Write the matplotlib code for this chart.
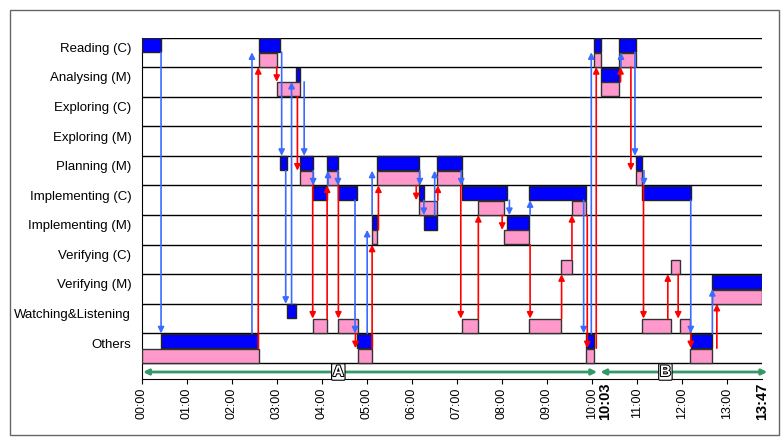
import matplotlib
matplotlib.use("Agg")
import matplotlib.pyplot as plt
import matplotlib.patheffects as pe
from matplotlib.patches import Rectangle

plt.rcParams['font.family'] = ['Liberation Sans', 'DejaVu Sans']

# --- Données ---
activities = ["Reading (C)", "Analysing (M)", "Exploring (C)", "Exploring (M)",
              "Planning (M)", "Implementing (C)", "Implementing (M)", "Verifying (C)",
              "Verifying (M)", "Watching&Listening", "Others"]

# (row, start, end) in minutes
blue_bars = [(0, 0.0, 0.43), (10, 0.43, 2.58), (0, 2.61, 3.07), (4, 3.07, 3.22),
             (9, 3.22, 3.42), (1, 3.42, 3.51), (4, 3.51, 3.81), (5, 3.81, 4.12),
             (4, 4.12, 4.36), (5, 4.36, 4.78), (10, 4.78, 5.11), (6, 5.11, 5.22),
             (4, 5.22, 6.17), (5, 6.17, 6.27), (6, 6.27, 6.57), (4, 6.57, 7.11),
             (5, 7.11, 8.11), (6, 8.11, 8.61), (5, 8.61, 9.88), (10, 9.88, 10.05),
             (0, 10.05, 10.21), (1, 10.21, 10.61), (0, 10.61, 10.98), (4, 10.98, 11.12),
             (5, 11.12, 12.2), (10, 12.2, 12.68), (8, 12.68, 13.783)]

pink_bars = [(10, 0.0, 2.61), (0, 2.61, 3.0), (1, 3.0, 3.51), (4, 3.51, 3.8),
             (9, 3.8, 4.12), (4, 4.12, 4.36), (9, 4.36, 4.8), (10, 4.8, 5.11),
             (6, 5.11, 5.22), (4, 5.22, 6.17), (5, 6.17, 6.57), (4, 6.57, 7.11),
             (9, 7.11, 7.47), (5, 7.47, 8.04), (6, 8.04, 8.61), (9, 8.61, 9.31),
             (7, 9.31, 9.56), (5, 9.56, 9.88), (10, 9.88, 10.05), (0, 10.05, 10.21),
             (1, 10.21, 10.61), (0, 10.61, 10.98), (4, 10.98, 11.12), (9, 11.12, 11.76),
             (7, 11.76, 11.95), (9, 11.95, 12.18), (10, 12.18, 12.68), (8, 12.68, 13.783)]

# (time, from row, to row)
blue_arrows = [(0.43, 0, 10), (2.45, 10, 0), (3.11, 0, 4), (3.2, 4, 9), (3.33, 9, 1),
               (3.61, 1, 4), (3.81, 4, 5), (4.14, 5, 4), (4.36, 4, 5), (4.74, 5, 10),
               (5.01, 10, 6), (5.12, 6, 4), (6.18, 4, 5), (6.27, 5, 6), (6.51, 6, 4),
               (7.1, 4, 5), (8.17, 5, 6), (8.63, 6, 5), (9.82, 5, 10), (9.99, 10, 0),
               (10.65, 1, 0), (10.96, 0, 4), (11.16, 4, 5), (12.2, 5, 10), (12.68, 10, 8)]

red_arrows = [(2.59, 10, 0), (3.0, 0, 1), (3.46, 1, 4), (3.8, 4, 9), (4.12, 9, 4),
              (4.37, 4, 9), (4.75, 9, 10), (5.12, 10, 6), (5.26, 6, 4), (6.1, 4, 5),
              (6.58, 5, 4), (7.09, 4, 9), (7.48, 9, 5), (8.01, 5, 6), (8.63, 6, 9),
              (9.33, 9, 7), (9.56, 7, 5), (9.9, 5, 10), (10.1, 10, 0), (10.64, 1, 0),
              (10.87, 0, 4), (11.15, 4, 9), (11.69, 9, 7), (11.92, 7, 9), (12.2, 9, 10),
              (12.78, 10, 8)]

hours = list(range(14))
hour_labels = ["%02d:%02d" % (h, 0) for h in hours]
marks = [("10:03", 10.05), ("13:47", 13.783)]
phases = [("A", 0.03, 10.12), ("B", 10.19, 13.9)]

# --- Figure ---
W, H = 783, 437
fig = plt.figure(figsize=(W / 100, H / 100), dpi=100)
ax = fig.add_axes([141.7 / W, 1 - 378.5 / H, (762 - 141.7) / W, (378.5 - 37.5) / H])
n = len(activities)
row_h = (363 - 37.5) / n
ax.set_xlim(0, 13.783)
ax.set_ylim(n + (378.5 - 363) / row_h, 0)

for r, a, b in blue_bars:
    ax.barh(r + 0.02, b - a, left=a, height=0.47, align='edge',
            color='#0000FF', edgecolor='#222222', linewidth=1, zorder=3)
for r, a, b in pink_bars:
    ax.barh(r + 0.52, b - a, left=a, height=0.47, align='edge',
            color='#FF99CC', edgecolor='#333333', linewidth=1, zorder=3)

for i in range(n + 1):
    ax.axhline(i, color='black', lw=1, zorder=1)


def arrow(t, y0, y1, color):
    ax.annotate('', xy=(t, y1), xytext=(t, y0),
                arrowprops=dict(arrowstyle='-|>', color=color, lw=1.2,
                                shrinkA=0, shrinkB=0, mutation_scale=9), zorder=5)


for t, r0, r1 in blue_arrows:
    if r1 > r0:
        arrow(t, r0 + 0.5, r1, '#3A6BFF')
    else:
        arrow(t, r0, r1 + 0.5, '#3A6BFF')
for t, r0, r1 in red_arrows:
    if r1 > r0:
        arrow(t, r0 + 1, r1 + 0.5, '#FF0000')
    else:
        arrow(t, r0 + 0.5, r1 + 1, '#FF0000')

# --- Phases ---
yp = n + (372 - 363) / row_h
for name, a, b in phases:
    ax.annotate('', xy=(b, yp), xytext=(a, yp), annotation_clip=False,
                arrowprops=dict(arrowstyle='<|-|>', color='#339966', lw=2,
                                shrinkA=0, shrinkB=0, mutation_scale=8))
    ax.text(a + (b - a) * 0.43 if name == "A" else a + (b - a) * 0.39, yp, name,
            ha='center', va='center', fontsize=11, fontweight='bold', color='white',
            path_effects=[pe.withStroke(linewidth=1.5, foreground='black')],
            bbox=dict(boxstyle='round,pad=0.08', fc='white', ec='black', lw=0.8),
            zorder=6)

# --- Axes ---
ax.spines['top'].set_visible(False)
ax.spines['right'].set_visible(False)
ax.set_yticks([i + 0.33 for i in range(n)])
ax.set_yticklabels(activities, fontsize=9.5)
ax.tick_params(axis='y', length=0, pad=7.5)
ax.set_xticks(hours)
ax.set_xticklabels(hour_labels, rotation=90, fontsize=9)
ax.tick_params(axis='x', length=3.5, pad=3, direction='out')

for lab, t in marks:
    dx = 8 if lab == "10:03" else 0
    ax.annotate(lab, xy=(t, 0), xycoords=ax.get_xaxis_transform(),
                xytext=(dx, -3), textcoords='offset points', rotation=90,
                ha='center', va='top', fontsize=10.5, fontweight='bold')

fig.add_artist(Rectangle((10 / W, 1 - 435 / H), 769 / W, 425 / H, transform=fig.transFigure,
                         fill=False, ec='#666666', lw=1))

fig.savefig("out.png", dpi=100)
